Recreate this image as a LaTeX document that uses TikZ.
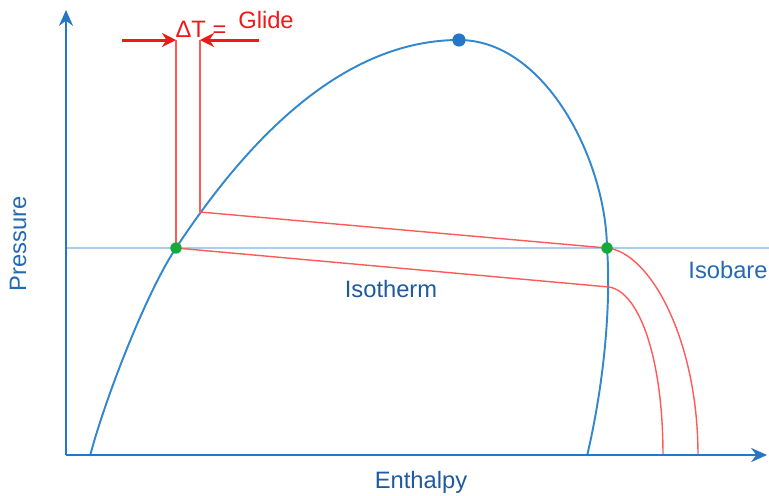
\documentclass[tikz,border=0pt]{standalone}
\usepackage{fontspec}
\setmainfont{Liberation Sans}
\usetikzlibrary{arrows.meta}
\definecolor{axisblue}{RGB}{38,118,200}
\definecolor{domeblue}{RGB}{50,135,205}
\definecolor{isoblue}{RGB}{170,205,235}
\definecolor{lred}{RGB}{255,90,90}
\definecolor{sred}{RGB}{240,25,25}
\definecolor{dgreen}{RGB}{20,170,60}
\definecolor{txtblue}{RGB}{35,105,180}
\definecolor{txtdblue}{RGB}{30,90,160}
\tikzset{
  axisline/.style={draw=axisblue, line width=1.6pt, -{Stealth[length=9pt,width=8pt]}},
  dome/.style={draw=domeblue, line width=1.1pt},
  isobar/.style={draw=isoblue, line width=1.1pt},
  redline/.style={draw=lred, line width=0.8pt},
  redarrow/.style={draw=sred, line width=1.7pt, -{Stealth[length=8pt,width=8pt]}},
  pt/.style={circle, inner sep=0pt, minimum size=6.5pt},
  lbl/.style={font=\fontsize{13.5}{16}\selectfont, inner sep=0pt},
}
\begin{document}
\begin{tikzpicture}[x=0.02cm,y=-0.02cm]
\useasboundingbox (0,0) rectangle (769,495);
% coordinates
\coordinate (O) at (66,455);
\coordinate (ytop) at (66,10);
\coordinate (xend) at (767,455);
\coordinate (isoL) at (66,248);
\coordinate (isoR) at (769,248);
\coordinate (L0) at (90,456);
\coordinate (A) at (176,248);
\coordinate (B) at (200,212);
\coordinate (T) at (459,40);
\coordinate (C) at (607,248);
\coordinate (D) at (609,287);
\coordinate (R0) at (587,456);
\coordinate (At) at (176,40);
\coordinate (Bt) at (200,40);
\coordinate (la) at (122,40);
\coordinate (ra) at (259,40);
\coordinate (E1) at (698,455);
\coordinate (E2) at (663,455);
% isobar
\draw[isobar] (isoL) -- (isoR);
% dome
\draw[dome] (L0) .. controls (105,399) and (146,293) .. (A)
  .. controls (231,165) and (329,40) .. (T)
  .. controls (545,40) and (606,160) .. (C)
  .. controls (611,300) and (605,380) .. (R0);
% red lines
\draw[redline] (A) -- (At);
\draw[redline] (B) -- (Bt);
\draw[redline] (B) -- (C);
\draw[redline] (A) -- (D);
\draw[redline] (C) .. controls (650,252) and (698,340) .. (E1);
\draw[redline] (D) .. controls (640,292) and (663,360) .. (E2);
% arrows
\draw[redarrow] (la) -- (At);
\draw[redarrow] (ra) -- (Bt);
% axes
\draw[axisline] (O) -- (ytop);
\draw[axisline] (O) -- (xend);
% points
\node[pt, fill=dgreen] (pA) at (A) {};
\node[pt, fill=dgreen] (pC) at (C) {};
\node[pt, fill=axisblue, minimum size=7.5pt] (top) at (T) {};
% labels
\node[lbl, text=sred] (dT) at (201,29) {ΔT =};
\node[lbl, text=sred] (glide) at (266,20) {Glide};
\node[lbl, text=txtblue, rotate=90] (press) at (18,244) {Pressure};
\node[lbl, text=txtdblue] (enth) at (421,482) {Enthalpy};
\node[lbl, text=txtdblue] (isoth) at (391,289) {Isotherm};
\node[lbl, text=txtblue] (isobare) at (728,270) {Isobare};
\end{tikzpicture}
\end{document}
